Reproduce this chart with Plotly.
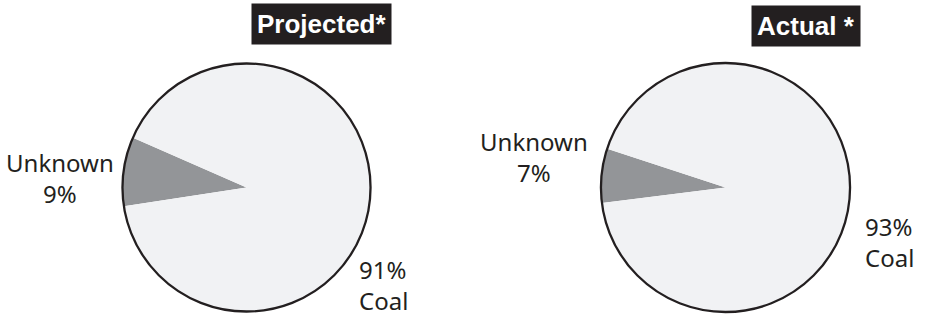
import plotly.graph_objects as go

# ---- data ----
chart_titles = ["Projected*", "Actual *"]
categories = ["Unknown", "Coal"]
projected_values = [9, 91]
actual_values = [7, 93]

W, H = 928, 316
FILL_COLORS = ["#939598", "#f1f2f4"]
LABEL_FONT = dict(family="Noto Sans, Open Sans, sans-serif", size=24, color="#231f20")
TITLE_FONT = dict(family="Liberation Sans, Arial, sans-serif", size=26, color="white")


def px(x):
    return x / W


def py(y):
    return 1 - y / H


# pie geometry (pixel centre, radius) and layout placement per chart
pies = [
    dict(cx=246.5, cy=187.5, r=124, wedge_center=172.5,
         title_xy=(251, 3), unk_xy=(60, 177.5), coal_xy=(383, 285)),
    dict(cx=725.5, cy=187.5, r=124.5, wedge_center=174.5,
         title_xy=(751, 5), unk_xy=(534, 156.5), coal_xy=(889, 242)),
]
series = [projected_values, actual_values]

fig = go.Figure()
annotations = []
for spec, vals, title in zip(pies, series, chart_titles):
    dom = dict(x=[px(spec["cx"] - spec["r"]), px(spec["cx"] + spec["r"])],
               y=[py(spec["cy"] + spec["r"]), py(spec["cy"] - spec["r"])])
    total = sum(vals)
    unk_deg = vals[0] / total * 360
    # first slice spans clockwise from `rotation` (degrees from 12 o'clock)
    rotation = 90 - (spec["wedge_center"] + unk_deg / 2)
    fig.add_trace(go.Pie(
        labels=categories, values=vals, sort=False, direction="clockwise",
        rotation=rotation, domain=dom, textinfo="none", hoverinfo="label+percent",
        marker=dict(colors=FILL_COLORS, line=dict(width=0)), showlegend=False,
    ))
    # outer outline only (single full slice, transparent)
    fig.add_trace(go.Pie(
        labels=["total"], values=[total], sort=False, domain=dom, textinfo="none",
        hoverinfo="skip", marker=dict(colors=["rgba(0,0,0,0)"],
                                      line=dict(width=2.3, color="#231f20")),
        showlegend=False,
    ))
    tx, ty = spec["title_xy"]
    annotations.append(dict(
        x=px(tx), y=py(ty), xref="paper", yref="paper", xanchor="left", yanchor="top",
        text=f"<b>{title}</b>", showarrow=False, font=TITLE_FONT,
        bgcolor="#231f20", borderpad=5,
    ))
    ux, uy = spec["unk_xy"]
    annotations.append(dict(
        x=px(ux), y=py(uy), xref="paper", yref="paper", xanchor="center", yanchor="middle",
        text=f"{categories[0]}<br>{vals[0]}%", showarrow=False, font=LABEL_FONT, align="center",
        borderpad=0,
    ))
    cx_, cy_ = spec["coal_xy"]
    annotations.append(dict(
        x=px(cx_), y=py(cy_), xref="paper", yref="paper", xanchor="center", yanchor="middle",
        text=f"{vals[1]}%<br>{categories[1]}", showarrow=False, font=LABEL_FONT, align="left",
        borderpad=0,
    ))

fig.update_layout(
    width=W, height=H, margin=dict(l=0, r=0, t=0, b=0),
    paper_bgcolor="white", plot_bgcolor="white", annotations=annotations,
)
fig.write_html("out.html", config={"displayModeBar": False},
               post_script="document.body.style.margin='0';")
